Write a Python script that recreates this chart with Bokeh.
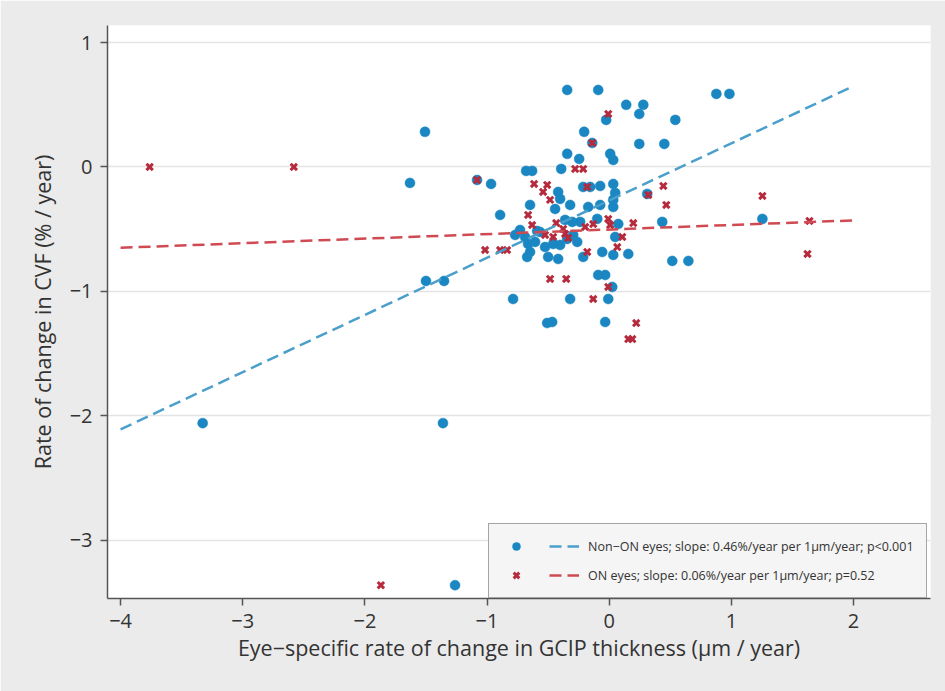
from bokeh.plotting import figure
from bokeh.models import Legend, LegendItem, Range1d, FixedTicker
from bokeh.embed import file_html
from bokeh.resources import INLINE

# ---- data ----
non_on_x = [-0.344, -0.090, 0.877, 0.984, 0.139, 0.279, 0.246, -0.025, 0.541, -1.508,
            -0.205, 0.246, 0.451, -0.139, -0.344, -0.246, 0.008, 0.033, -0.680, -0.631,
            -0.393, -1.082, -0.967, -1.631, -0.418, -0.402, -0.320, -0.213, -0.156, -0.074,
            0.033, 0.049, 0.033, 0.311, -0.648, -0.172, -0.074, 0.033, -0.893, 0.434,
            1.254, -0.238, -0.098, 0.074, -0.361, -0.303, -0.443, 0.049, -0.730, -0.689,
            -0.664, -0.648, -0.607, -0.566, -0.525, -0.500, -0.459, -0.418, -0.672, -0.402,
            -0.344, -0.295, -0.262, -0.213, -0.057, 0.033, 0.156, 0.516, 0.648, -0.090,
            -0.033, 0.025, -0.008, -0.787, -0.320, -0.508, -0.467, -0.033, -1.500, -1.352,
            -3.328, -1.361, -1.262, -0.590, -0.770]
non_on_y = [0.619, 0.619, 0.587, 0.587, 0.499, 0.499, 0.426, 0.378, 0.378, 0.282,
            0.282, 0.185, 0.185, 0.193, 0.105, 0.064, 0.105, 0.056, -0.032, -0.032,
            -0.016, -0.105, -0.137, -0.129, -0.201, -0.257, -0.306, -0.161, -0.161, -0.153,
            -0.137, -0.209, -0.265, -0.217, -0.306, -0.322, -0.306, -0.322, -0.386, -0.442,
            -0.418, -0.442, -0.418, -0.459, -0.426, -0.442, -0.338, -0.563, -0.507, -0.563,
            -0.619, -0.684, -0.603, -0.523, -0.644, -0.724, -0.619, -0.740, -0.724, -0.628,
            -0.579, -0.547, -0.603, -0.724, -0.684, -0.708, -0.700, -0.756, -0.756, -0.869,
            -0.869, -0.965, -1.062, -1.062, -1.062, -1.255, -1.247, -1.247, -0.917, -0.917,
            -2.060, -2.060, -3.363, -0.515, -0.547]

on_x = [-3.762, -2.582, -1.869, -1.082, -1.016, -0.893, -0.836, -0.484, -0.352, -0.131,
        0.221, 0.156, 0.189, -0.008, -0.139, -0.279, -0.213, -0.615, -0.508, -0.541,
        -0.484, -0.180, 0.443, 0.467, 0.320, 1.254, 1.639, 1.623, -0.664, -0.631,
        -0.434, -0.197, -0.131, -0.008, 0.008, 0.197, -0.525, -0.459, -0.361, -0.336,
        0.107, 0.066, -0.180, -0.008, -0.377]
on_y = [0.0, 0.0, -3.363, -0.105, -0.668, -0.668, -0.668, -0.901, -0.901, -1.062,
        -1.255, -1.384, -1.384, 0.426, 0.193, -0.016, -0.016, -0.137, -0.145, -0.201,
        -0.265, -0.161, -0.153, -0.306, -0.225, -0.233, -0.434, -0.700, -0.386, -0.467,
        -0.451, -0.483, -0.459, -0.418, -0.467, -0.451, -0.547, -0.563, -0.539, -0.571,
        -0.563, -0.644, -0.684, -0.965, -0.499]

fit_x = [-4, 2]
non_on_fit_y = [-2.11, 0.65]
on_fit_y = [-0.65, -0.43]

x_ticks = [-4, -3, -2, -1, 0, 1, 2]
y_ticks = [-3, -2, -1, 0, 1]

non_on_label = "Non\u2212ON eyes; slope: 0.46%/year per 1\u03bcm/year; p<0.001"
on_label = "ON eyes; slope: 0.06%/year per 1\u03bcm/year; p=0.52"
x_title = "Eye\u2212specific rate of change in GCIP thickness (\u03bcm / year)"
y_title = "Rate of change in CVF (% / year)"

BLUE = "#1b87c2"
RED = "#b52a3c"
BLUE_LINE = "#4a9fcb"
RED_LINE = "#cf4a52"
FONT = "Open Sans"

p = figure(width=945, height=691, output_backend="svg", toolbar_location=None,
           x_range=Range1d(-4.107, 2.63), y_range=Range1d(-3.47, 1.137),
           min_border_left=107, min_border_right=15, min_border_top=25, min_border_bottom=93)

p.background_fill_color = "white"
p.border_fill_color = "#ebebeb"
p.outline_line_color = None

p.xgrid.visible = False
p.ygrid.grid_line_color = "#e4e4e4"
p.ygrid.grid_line_width = 1.5

p.xaxis.ticker = FixedTicker(ticks=x_ticks)
p.yaxis.ticker = FixedTicker(ticks=y_ticks)
p.xaxis.major_label_overrides = {t: (("\u2212" + str(-t)) if t < 0 else str(t)) for t in x_ticks}
p.yaxis.major_label_overrides = {t: (("\u2212" + str(-t)) if t < 0 else str(t)) for t in y_ticks}

for ax in (p.xaxis, p.yaxis):
    ax.axis_line_color = "#555555"
    ax.axis_line_width = 1.5
    ax.major_tick_line_color = "#555555"
    ax.major_tick_line_width = 1.5
    ax.major_tick_out = 7
    ax.major_tick_in = 0
    ax.minor_tick_line_color = None
    ax.major_label_text_font = FONT
    ax.major_label_text_font_size = "20px"
    ax.major_label_text_color = "#333333"
    ax.axis_label_text_font = FONT
    ax.axis_label_text_font_size = "21.5px"
    ax.axis_label_text_font_style = "normal"
    ax.axis_label_text_color = "#333333"

p.xaxis.axis_label = x_title
p.yaxis.axis_label = y_title
p.xaxis.major_label_standoff = 8
p.xaxis.axis_label_standoff = 2
p.yaxis.major_label_standoff = 8
p.yaxis.axis_label_standoff = 10

blue_pts = p.scatter(non_on_x, non_on_y, marker="circle", size=10,
                     fill_color=BLUE, line_color=BLUE, line_width=0.5)
red_pts = p.scatter(on_x, on_y, marker="x", size=9, line_color=RED, line_width=3)

blue_fit = p.line(fit_x, non_on_fit_y, line_color=BLUE_LINE, line_width=2.5, line_dash="12 6")
red_fit = p.line(fit_x, on_fit_y, line_color=RED_LINE, line_width=2.5, line_dash="12 6")

legend = Legend(
    items=[
        LegendItem(label="", renderers=[blue_pts]),
        LegendItem(label="", renderers=[red_pts]),
        LegendItem(label=non_on_label, renderers=[blue_fit]),
        LegendItem(label=on_label, renderers=[red_fit]),
    ],
    ncols=2,
    location=(381, 0),
    glyph_width=30,
    glyph_height=20,
    label_width=0,
    label_standoff=9,
    spacing=9,
    padding=12,
    margin=0,
    border_line_color="#555555",
    border_line_width=1.5,
    background_fill_color="#f5f5f5",
    background_fill_alpha=1.0,
    label_text_font=FONT,
    label_text_font_size="12.5px",
    label_text_color="#333333",
)
p.add_layout(legend, "center")

open("out.html", "w").write(file_html(p, INLINE))
